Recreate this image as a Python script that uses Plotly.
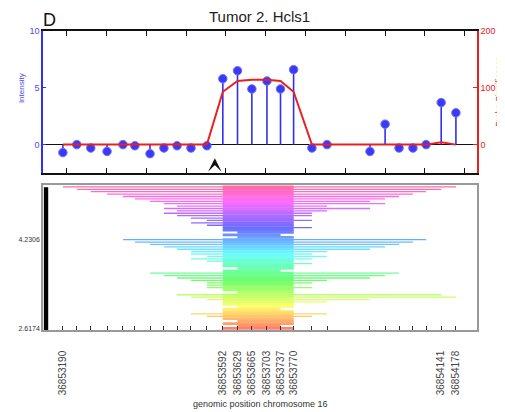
import colorsys
import plotly.graph_objects as go

# ---------------- data ----------------
probe_pos = [36853190, 36853225, 36853260, 36853301, 36853341, 36853371, 36853409,
             36853444, 36853477, 36853512, 36853552, 36853592, 36853629, 36853665,
             36853703, 36853737, 36853770, 36853816, 36853854, 36853962, 36854000,
             36854035, 36854070, 36854103, 36854141, 36854178]
intensity = [-0.7, 0.0, -0.3, -0.6, 0.0, -0.1, -0.8, -0.3, -0.1, -0.3, -0.1,
             5.8, 6.5, 4.9, 5.6, 4.9, 6.6,
             -0.3, 0.0, -0.6, 1.8, -0.3, -0.3, 0.0, 3.7, 2.8]
significance = [0, 0, 0, 0, 0, 0, 0, 0, 0, 0, 0,
                93, 112, 114, 114, 112, 93,
                0, 0, 0, 0, 0, 0, 0, 4, 0]
arrow_pos = 36853572
labeled_idx = [0, 11, 12, 13, 14, 15, 16, 24, 25]

# segments (probe index of left / right end), top row first
seg_left = [0, 1, 2, 3, 4, 5, 6, 7, 8, 7, 8, 7, 8, 9, 10, 9, 10, 11, 11, 12, 11, 12,
            4, 5, 6, 7, 8, 9, 9, 10, 9, 10, 11, 11, 12, 11,
            6, 7, 8, 9, 10, 10, 10, 11, 12,
            8, 9, 10, 11, 11, 12, 11, 11,
            9, 10, 11, 12, 11, 12, 11]
seg_right = [25, 24, 23, 22, 21, 20, 19, 20, 18, 19, 18, 17, 17, 16, 17, 16, 16, 17, 16, 16, 15, 16,
             23, 22, 21, 20, 19, 18, 17, 18, 17, 16, 17, 16, 16, 15,
             21, 20, 19, 18, 17, 16, 17, 16, 16,
             24, 25, 19, 18, 16, 16, 15, 16,
             18, 17, 16, 16, 16, 15, 16]
core_lo, core_hi = 11, 16
ytick_rows = [22, 59]
ytick_text = ["4.2306", "2.6174"]

FONT = "Liberation Sans, Arial, sans-serif"
BLUE = "#3030f0"
RED = "#e82020"

fig = go.Figure()

# ---------------- top panel ----------------
sx, sy = [], []
for p, v in zip(probe_pos, intensity):
    sx += [p, p, None]
    sy += [0, v, None]
fig.add_trace(go.Scatter(x=sx, y=sy, mode="lines", line=dict(color=BLUE, width=1.6),
                         xaxis="x", yaxis="y", hoverinfo="skip"))
fig.add_trace(go.Scatter(x=probe_pos, y=significance, mode="lines",
                         line=dict(color=RED, width=2), xaxis="x", yaxis="y3"))
fig.add_trace(go.Scatter(x=probe_pos, y=intensity, mode="markers",
                         marker=dict(color="#3a3af5", size=8.5, line=dict(color="#7070ff", width=1)),
                         xaxis="x", yaxis="y"))

# ---------------- bottom panel ----------------
n = len(seg_left)
for i, (l, r) in enumerate(zip(seg_left, seg_right)):
    hue = (335 - 325 * i / (n - 1)) / 360.0
    rgb = colorsys.hsv_to_rgb(hue, 0.58, 1.0)
    col = "rgb(%d,%d,%d)" % tuple(int(c * 255) for c in rgb)
    fig.add_trace(go.Scatter(x=[probe_pos[l], probe_pos[r]], y=[i, i], mode="lines",
                             line=dict(color=col, width=1.3), xaxis="x2", yaxis="y2",
                             hoverinfo="skip"))
    cl, cr = max(l, core_lo), min(r, core_hi)
    fig.add_trace(go.Scatter(x=[probe_pos[cl], probe_pos[cr]], y=[i, i], mode="lines",
                             line=dict(color=col, width=2.7), xaxis="x2", yaxis="y2",
                             hoverinfo="skip"))

xr = [36853140, 36854231]
ticktext = [str(p) if k in labeled_idx else "" for k, p in enumerate(probe_pos)]

# the page body has an 8px margin, so the figure is 8px smaller and margins shifted
fig.update_layout(
    width=497, height=404,
    margin=dict(l=35, r=28, t=23, b=82, autoexpand=False),
    paper_bgcolor="white", plot_bgcolor="white",
    showlegend=False,
    font=dict(family=FONT, size=9, color="#333"),
    xaxis=dict(domain=[0, 1], anchor="y", range=xr, showline=True, linecolor="#111",
               linewidth=1.5, mirror="ticks", ticks="inside", ticklen=5, tickcolor="#111",
               tick0=36853200, dtick=100, showticklabels=False, showgrid=False, zeroline=False,
               automargin=False),
    yaxis=dict(domain=[0.525, 1], range=[-2.5, 10], showline=True, linecolor=BLUE,
               linewidth=1.5, ticks="inside", ticklen=3, tickcolor=BLUE, tickvals=[0, 5, 10],
               tickfont=dict(color="#4a4af0", size=9), showgrid=False, zeroline=True,
               zerolinecolor="#111", zerolinewidth=1.3, automargin=False),
    yaxis3=dict(overlaying="y", anchor="x", side="right", range=[-50, 200], showline=True,
                linecolor=RED, linewidth=1.5, ticks="inside", ticklen=4, tickcolor=RED,
                tickvals=[0, 100, 200], tickfont=dict(color=RED, size=9), showgrid=False,
                zeroline=False, automargin=False),
    xaxis2=dict(domain=[0, 1], anchor="y2", range=xr, showline=True, linecolor="#999",
                linewidth=1.5, mirror=True, ticks="inside", ticklen=4, tickcolor="#333",
                tickvals=probe_pos, ticktext=ticktext, tickangle=-90,
                tickfont=dict(size=10, color="#444"), ticklabelstandoff=15,
                showgrid=False, zeroline=False, automargin=False),
    yaxis2=dict(domain=[0, 0.485], anchor="x2", range=[n - 0.3, -0.8], showline=True,
                linecolor="#999", linewidth=1.5, mirror=True, ticks="",
                tickvals=ytick_rows, ticktext=ytick_text, tickfont=dict(size=7, color="#333"),
                showgrid=False, zeroline=False, automargin=False),
)

fig.add_shape(type="rect", xref="x2 domain", yref="y2 domain", x0=0.002, x1=0.012,
              y0=0, y1=0.985, fillcolor="black", line=dict(width=0))

fig.add_annotation(x=arrow_pos, y=-1.2, xref="x", yref="y", ax=0, ay=8, text="",
                   showarrow=True, arrowhead=3, arrowsize=1.5, arrowwidth=1.5,
                   arrowcolor="#111")

fig.add_annotation(text="Tumor 2. Hcls1", xref="paper", yref="paper", x=0.498, y=1.047,
                   xanchor="center", yanchor="middle",
                   showarrow=False, font=dict(size=15, color="#222"))
fig.add_annotation(text="D", xref="paper", yref="paper", x=0.014, y=1.0769,
                   xanchor="center", yanchor="top",
                   showarrow=False, font=dict(size=18, color="#111"))
fig.add_annotation(text="Intensity", xref="paper", yref="paper", x=-0.0507, y=0.809,
                   xanchor="center", yanchor="middle",
                   textangle=-90, showarrow=False, font=dict(size=8, color="#4a4af0"))
fig.add_annotation(text="Probe Significance", xref="paper", yref="paper", x=1.05, y=0.799,
                   xanchor="center", yanchor="middle",
                   textangle=-90, showarrow=False, font=dict(size=8.5, color=RED))
fig.add_annotation(text="genomic position chromosome 16", xref="paper", yref="paper",
                   x=0.5, y=-0.247, xanchor="center", yanchor="middle",
                   showarrow=False, font=dict(size=9, color="#333"))

fig.write_html("out.html")
